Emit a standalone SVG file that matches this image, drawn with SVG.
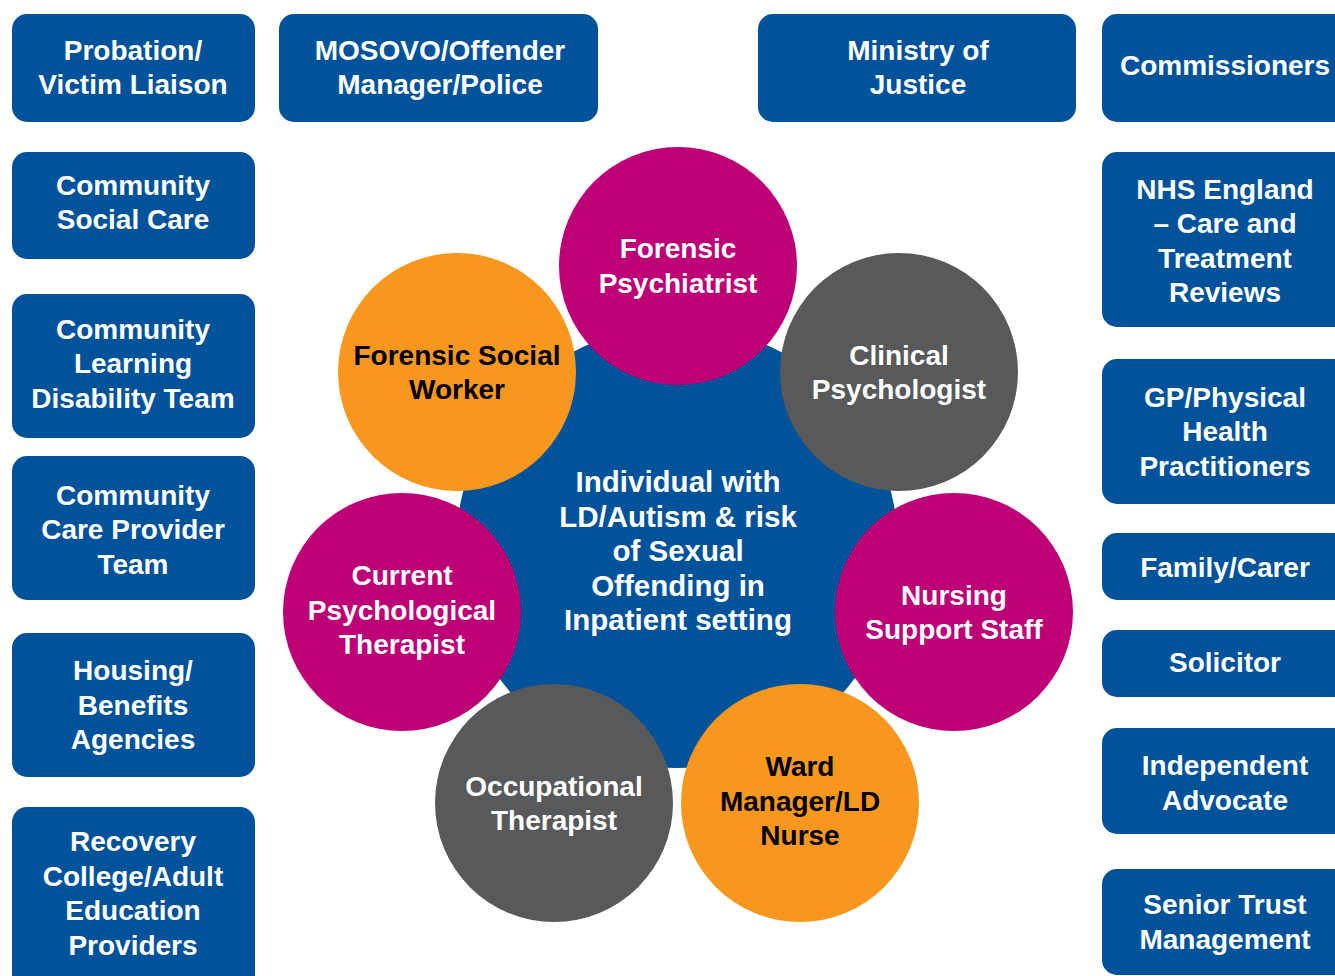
<svg xmlns="http://www.w3.org/2000/svg" width="1335" height="976" viewBox="0 0 1335 976">
<style>
.box{fill:#00529B}
.t{font-family:"Liberation Sans",Arial,sans-serif;font-weight:bold;font-size:28px;text-anchor:middle;fill:#ffffff}
.c{font-size:29.5px}
.k{fill:#000000}
.mag{fill:#BE0077}
.org{fill:#F7971E}
.gry{fill:#58595B}
.ctr{fill:#00529B}
</style>
<rect width="1335" height="976" fill="#ffffff"/>
<g id="connectors"></g>
<g id="centre">
<circle class="ctr" cx="677" cy="547" r="221"/>
<text class="t c"><tspan x="678" y="492">Individual with</tspan><tspan x="678" y="527">LD/Autism &amp; risk</tspan><tspan x="678" y="561">of Sexual</tspan><tspan x="678" y="596">Offending in</tspan><tspan x="678" y="630">Inpatient setting</tspan></text>
</g>
<g id="forensic-psychiatrist">
<circle class="mag" cx="678" cy="266" r="119"/>
<text class="t"><tspan x="678" y="258">Forensic</tspan><tspan x="678" y="293">Psychiatrist</tspan></text>
</g>
<g id="forensic-social-worker">
<circle class="org" cx="457" cy="372" r="119"/>
<text class="t k"><tspan x="457" y="365">Forensic Social</tspan><tspan x="457" y="399">Worker</tspan></text>
</g>
<g id="clinical-psychologist">
<circle class="gry" cx="899" cy="372" r="119"/>
<text class="t"><tspan x="899" y="365">Clinical</tspan><tspan x="899" y="399">Psychologist</tspan></text>
</g>
<g id="current-psychological-therapist">
<circle class="mag" cx="402" cy="612" r="119"/>
<text class="t"><tspan x="402" y="585">Current</tspan><tspan x="402" y="620">Psychological</tspan><tspan x="402" y="654">Therapist</tspan></text>
</g>
<g id="nursing-support-staff">
<circle class="mag" cx="954" cy="612" r="119"/>
<text class="t"><tspan x="954" y="605">Nursing</tspan><tspan x="954" y="639">Support Staff</tspan></text>
</g>
<g id="occupational-therapist">
<circle class="gry" cx="554" cy="803" r="119"/>
<text class="t"><tspan x="554" y="796">Occupational</tspan><tspan x="554" y="830">Therapist</tspan></text>
</g>
<g id="ward-manager">
<circle class="org" cx="800" cy="803" r="119"/>
<text class="t k"><tspan x="800" y="776">Ward</tspan><tspan x="800" y="811">Manager/LD</tspan><tspan x="800" y="845">Nurse</tspan></text>
</g>
<g id="probation">
<rect class="box" x="12" y="14" width="243" height="108" rx="15"/>
<text class="t"><tspan x="133" y="60">Probation/</tspan><tspan x="133" y="94">Victim Liaison</tspan></text>
</g>
<g id="mosovo">
<rect class="box" x="279" y="14" width="319" height="108" rx="15"/>
<text class="t"><tspan x="440" y="60">MOSOVO/Offender</tspan><tspan x="440" y="94">Manager/Police</tspan></text>
</g>
<g id="ministry-of-justice">
<rect class="box" x="758" y="14" width="318" height="108" rx="15"/>
<text class="t"><tspan x="918" y="60">Ministry of</tspan><tspan x="918" y="94">Justice</tspan></text>
</g>
<g id="commissioners">
<rect class="box" x="1102" y="14" width="260" height="108" rx="15"/>
<text class="t"><tspan x="1225" y="75">Commissioners</tspan></text>
</g>
<g id="community-social-care">
<rect class="box" x="12" y="152" width="243" height="107" rx="15"/>
<text class="t"><tspan x="133" y="195">Community</tspan><tspan x="133" y="229">Social Care</tspan></text>
</g>
<g id="cldt">
<rect class="box" x="12" y="294" width="243" height="144" rx="15"/>
<text class="t"><tspan x="133" y="339">Community</tspan><tspan x="133" y="373">Learning</tspan><tspan x="133" y="408">Disability Team</tspan></text>
</g>
<g id="community-care-provider">
<rect class="box" x="12" y="456" width="243" height="144" rx="15"/>
<text class="t"><tspan x="133" y="505">Community</tspan><tspan x="133" y="539">Care Provider</tspan><tspan x="133" y="574">Team</tspan></text>
</g>
<g id="housing">
<rect class="box" x="12" y="633" width="243" height="144" rx="15"/>
<text class="t"><tspan x="133" y="680">Housing/</tspan><tspan x="133" y="715">Benefits</tspan><tspan x="133" y="749">Agencies</tspan></text>
</g>
<g id="recovery-college">
<rect class="box" x="12" y="807" width="243" height="190" rx="15"/>
<text class="t"><tspan x="133" y="851">Recovery</tspan><tspan x="133" y="886">College/Adult</tspan><tspan x="133" y="920">Education</tspan><tspan x="133" y="955">Providers</tspan></text>
</g>
<g id="nhs-england">
<rect class="box" x="1102" y="152" width="260" height="175" rx="15"/>
<text class="t"><tspan x="1225" y="199">NHS England</tspan><tspan x="1225" y="233">– Care and</tspan><tspan x="1225" y="268">Treatment</tspan><tspan x="1225" y="302">Reviews</tspan></text>
</g>
<g id="gp">
<rect class="box" x="1102" y="359" width="260" height="145" rx="15"/>
<text class="t"><tspan x="1225" y="407">GP/Physical</tspan><tspan x="1225" y="441">Health</tspan><tspan x="1225" y="476">Practitioners</tspan></text>
</g>
<g id="family-carer">
<rect class="box" x="1102" y="533" width="260" height="67" rx="15"/>
<text class="t"><tspan x="1225" y="577">Family/Carer</tspan></text>
</g>
<g id="solicitor">
<rect class="box" x="1102" y="630" width="260" height="67" rx="15"/>
<text class="t"><tspan x="1225" y="672">Solicitor</tspan></text>
</g>
<g id="independent-advocate">
<rect class="box" x="1102" y="728" width="260" height="106" rx="15"/>
<text class="t"><tspan x="1225" y="775">Independent</tspan><tspan x="1225" y="810">Advocate</tspan></text>
</g>
<g id="senior-trust">
<rect class="box" x="1102" y="869" width="260" height="106" rx="15"/>
<text class="t"><tspan x="1225" y="914">Senior Trust</tspan><tspan x="1225" y="949">Management</tspan></text>
</g>
</svg>
